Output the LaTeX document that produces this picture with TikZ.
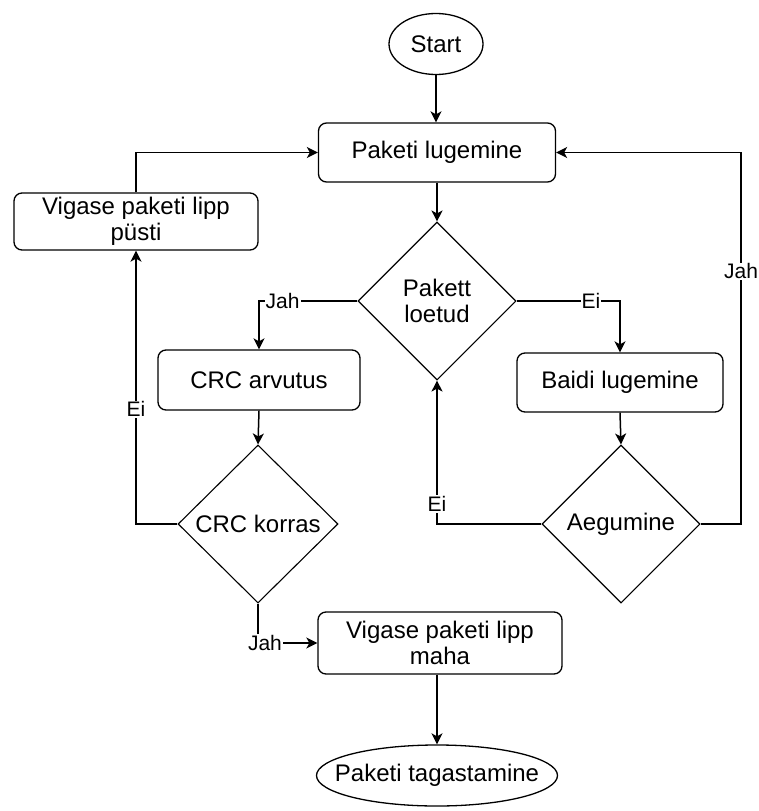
\documentclass[tikz,border=0pt]{standalone}
\usepackage{fontspec}
\setmainfont{Liberation Sans}
\usetikzlibrary{shapes.geometric,arrows.meta}
\begin{document}
\begin{tikzpicture}[x=1pt,y=-1pt,
  box/.style={draw,line width=1.3pt,rounded corners=8pt,align=center,inner sep=0pt,
    font=\fontsize{24}{26}\selectfont},
  oval/.style={draw,line width=1.3pt,ellipse,inner sep=0pt,align=center,
    font=\fontsize{24}{26}\selectfont},
  dia/.style={draw,line width=1.1pt,diamond,shape aspect=1,inner sep=0pt,align=center,
    font=\fontsize{24}{26}\selectfont},
  conn/.style={line width=1.5pt,-{Stealth[length=11pt,width=11pt,inset=3pt]}},
  lbl/.style={fill=white,inner sep=1pt,font=\fontsize{21}{22}\selectfont}]
\useasboundingbox (0,0) rectangle (758,811);
\node[oval,minimum width=94pt,minimum height=61pt] (start) at (436,44) {Start};
\node[box,minimum width=237pt,minimum height=59pt] (pl) at (437,152.5) {Paketi lugemine};
\node[box,minimum width=244pt,minimum height=57pt] (vp) at (136,221.5) {Vigase paketi lipp\\püsti};
\node[dia,minimum width=158pt,minimum height=158pt] (pd) at (437,301) {Pakett\\loetud};
\node[box,minimum width=202pt,minimum height=60pt] (crc) at (259,380) {CRC arvutus};
\node[box,minimum width=206pt,minimum height=59pt] (bl) at (620,382.5) {Baidi lugemine};
\node[dia,minimum width=160pt,minimum height=158pt] (ck) at (258,524) {CRC korras};
\node[dia,minimum width=158pt,minimum height=158pt] (ae) at (621,524) {Aegumine};
\node[box,minimum width=244pt,minimum height=62pt] (vm) at (440,643) {Vigase paketi lipp\\maha};
\node[oval,inner xsep=-17pt,minimum width=241pt,minimum height=61pt] (pt) at (437,775.5) {Paketi tagastamine};
\coordinate (jr) at (741,524);
\draw[conn] (start.south) -- (start.south |- pl.north);
\draw[conn] (pl.south) -- (pd.north);
\draw[conn] (pd.west) -| node[lbl,pos=0.38]{Jah} (crc.north);
\draw[conn] (pd.east) -| node[lbl,pos=0.36]{Ei} (bl.north);
\draw[conn] (crc.south) -- (ck.north);
\draw[conn] (bl.south) -- (ae.north);
\draw[conn] (ck.west) -| node[lbl,pos=0.71]{Ei} (vp.south);
\draw[conn] (vp.north) |- (pl.west);
\draw[conn] (ae.west) -| node[lbl,pos=0.57]{Ei} (pd.south);
\draw[conn] (ae.east) -- (jr) |- node[lbl,pos=0.34]{Jah} (pl.east);
\draw[conn] (ck.south) |- node[lbl,pos=0.5,xshift=7pt]{Jah} (vm.west);
\draw[conn] (vm.south -| pt.north) -- (pt.north);
\end{tikzpicture}
\end{document}
